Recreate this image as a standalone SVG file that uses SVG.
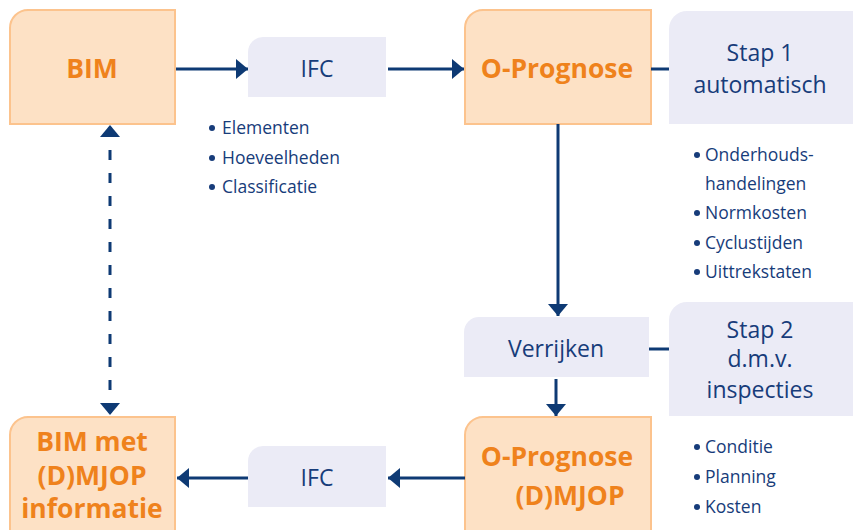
<svg xmlns="http://www.w3.org/2000/svg" width="856" height="530" viewBox="0 0 856 530">
<style>
.org{fill:#fde1c5;stroke:#fcc38d;stroke-width:2}
.lav{fill:#ebebf6}
.ot{font-family:"Open Sans","Liberation Sans",sans-serif;font-weight:bold;font-size:26.5px;fill:#ef821c;text-anchor:middle}
.nt{font-family:"Open Sans","Liberation Sans",sans-serif;font-size:23px;fill:#173c7a;text-anchor:middle}
.bt{font-family:"Open Sans","Liberation Sans",sans-serif;font-size:17.5px;fill:#173c7a}
.ln{fill:none;stroke:#0e3a74;stroke-width:3}
.dot{fill:#173c7a}
</style>
<defs>
<marker id="ah" markerUnits="userSpaceOnUse" markerWidth="13" markerHeight="20" refX="12" refY="10" orient="auto-start-reverse" viewBox="0 0 13 20">
<path d="M0,0 L12,10 L0,20 Z" fill="#0e3a74"/>
</marker>
</defs>
<rect width="856" height="530" fill="#ffffff"/>

<g id="bim">
<path class="org" d="M10,28 A18,18 0 0 1 28,10 H175 V124 H10 Z"/>
<text class="ot" x="92" y="78">BIM</text>
</g>
<g id="ifc1">
<path class="lav" d="M248,52 A15,15 0 0 1 263,37 H386 V97 H248 Z"/>
<text class="nt" x="317" y="77">IFC</text>
</g>
<g id="ifc1-list">
<circle class="dot" cx="212" cy="128" r="3"/><text class="bt" x="222" y="134">Elementen</text>
<circle class="dot" cx="212" cy="158" r="3"/><text class="bt" x="222" y="164">Hoeveelheden</text>
<circle class="dot" cx="212" cy="187" r="3"/><text class="bt" x="222" y="193">Classificatie</text>
</g>
<g id="oprognose">
<path class="org" d="M465,28 A18,18 0 0 1 483,10 H651 V124 H465 Z"/>
<text class="ot" x="557" y="78">O-Prognose</text>
</g>
<g id="stap1">
<path class="lav" d="M669,29 A18,18 0 0 1 687,11 H853 V124 H669 Z"/>
<text class="nt" x="760" y="61">Stap 1</text>
<text class="nt" x="760" y="93">automatisch</text>
</g>
<g id="stap1-list">
<circle class="dot" cx="697" cy="155" r="3"/><text class="bt" x="705" y="161">Onderhouds-</text>
<text class="bt" x="705" y="190">handelingen</text>
<circle class="dot" cx="697" cy="213" r="3"/><text class="bt" x="705" y="219">Normkosten</text>
<circle class="dot" cx="697" cy="243" r="3"/><text class="bt" x="705" y="249">Cyclustijden</text>
<circle class="dot" cx="697" cy="272" r="3"/><text class="bt" x="705" y="278">Uittrekstaten</text>
</g>
<g id="verrijken">
<path class="lav" d="M464,332 A15,15 0 0 1 479,317 H649 V377 H464 Z"/>
<text class="nt" x="556" y="357">Verrijken</text>
</g>
<g id="stap2">
<path class="lav" d="M669,320 A18,18 0 0 1 687,302 H853 V416 H669 Z"/>
<text class="nt" x="760" y="338">Stap 2</text>
<text class="nt" x="760" y="367">d.m.v.</text>
<text class="nt" x="760" y="398">inspecties</text>
</g>
<g id="stap2-list">
<circle class="dot" cx="697" cy="447" r="3"/><text class="bt" x="705" y="453">Conditie</text>
<circle class="dot" cx="697" cy="477" r="3"/><text class="bt" x="705" y="483">Planning</text>
<circle class="dot" cx="697" cy="507" r="3"/><text class="bt" x="705" y="513">Kosten</text>
</g>
<g id="oprognose-dmjop">
<path class="org" d="M465,435 A18,18 0 0 1 483,417 H651 V545 H465 Z"/>
<text class="ot" x="557" y="466">O-Prognose</text>
<text class="ot" x="570" y="505">(D)MJOP</text>
</g>
<g id="ifc2">
<path class="lav" d="M248,461 A15,15 0 0 1 263,446 H386 V507 H248 Z"/>
<text class="nt" x="317" y="486">IFC</text>
</g>
<g id="bim-met">
<path class="org" d="M10,435 A18,18 0 0 1 28,417 H175 V545 H10 Z"/>
<text class="ot" x="92" y="451">BIM met</text>
<text class="ot" x="92" y="485">(D)MJOP</text>
<text class="ot" x="92" y="518">informatie</text>
</g>

<g id="connectors">
<path class="ln" d="M176,69 H248" marker-end="url(#ah)"/>
<path class="ln" d="M388,69 H464" marker-end="url(#ah)"/>
<path class="ln" d="M651,69 H669"/>
<path class="ln" d="M558,124 V316" marker-end="url(#ah)"/>
<path class="ln" d="M649,349 H669"/>
<path class="ln" d="M556,379 V416" marker-end="url(#ah)"/>
<path class="ln" d="M465,478 H388" marker-end="url(#ah)"/>
<path class="ln" d="M248,478 H177" marker-end="url(#ah)"/>
<path class="ln" d="M110,125 V415" stroke-dasharray="10 13" stroke-dashoffset="-2" marker-start="url(#ah)" marker-end="url(#ah)"/>
</g>
</svg>
